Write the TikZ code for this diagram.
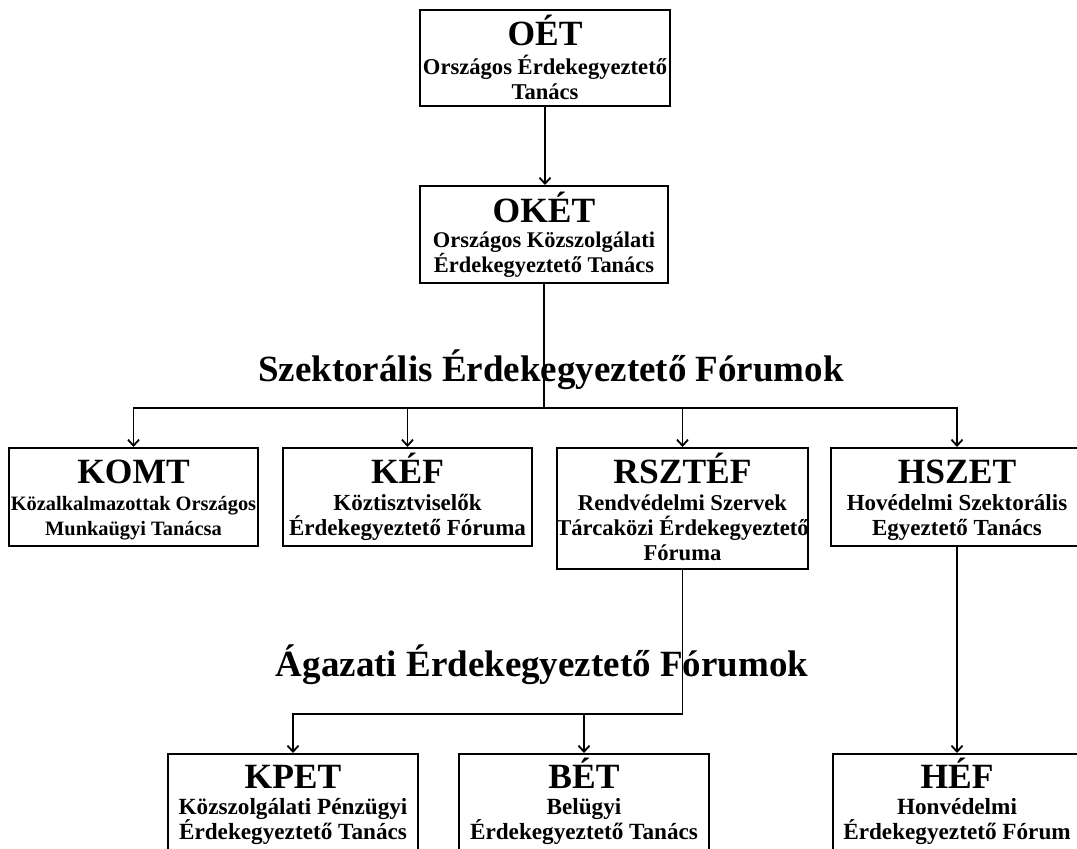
\documentclass[tikz,border=0pt]{standalone}
\usepackage{fontspec}
\setmainfont{Liberation Serif}
\usetikzlibrary{fit,arrows.meta}
\tikzset{
  obox/.style={draw, line width=2pt, inner sep=0pt},
  ttl/.style={font=\fontsize{35.5}{40}\selectfont\bfseries, inner sep=0pt},
  sub/.style={inner sep=0pt},
  seclabel/.style={font=\fontsize{37}{42}\selectfont\bfseries, inner sep=0pt},
  conn/.style={line width=1.8pt},
  arr/.style={conn, -{Straight Barb[length=6pt,width=11pt]}},
}
% #1 name, #2 corner, #3 corner, #4 title baseline offset, #5 first line offset,
% #6 title, #7 lines, #8 font size of the lines
\newcommand\orgbox[8]{%
  \node[obox, fit={#2 #3}] (#1) {};
  \node[ttl, anchor=base] (#1-t) at ([yshift=-#4pt]#1.north) {#6};
  \foreach \txt [count=\i] in {#7} {%
    \pgfmathsetmacro\dy{#5+25*(\i-1)}%
    \node[sub, font=\fontsize{#8}{25}\selectfont\bfseries, anchor=base] (#1-\i) at ([yshift=-\dy pt]#1.north) {\txt};
  }%
}
\begin{document}
\begin{tikzpicture}[x=1pt,y=-1pt]
\useasboundingbox (0,0) rectangle (1077,849);
\clip (0,0) rectangle (1077,849);

\orgbox{oet}{(420,10)}{(670,106)}{36}{65}{OÉT}{Országos Érdekegyeztető,Tanács}{22.6}
\orgbox{oket}{(420,186)}{(668,283)}{37}{62}{OKÉT}{Országos Közszolgálati,Érdekegyeztető Tanács}{22.4}
\orgbox{komt}{(9,448)}{(258,546)}{36}{63}{KOMT}{Közalkalmazottak Országos,Munkaügyi Tanácsa}{20.4}
\orgbox{kef}{(283,448)}{(532,546)}{36}{63}{KÉF}{Köztisztviselők,Érdekegyeztető Fóruma}{23}
\orgbox{rsztef}{(557,448)}{(808,569)}{36}{63}{RSZTÉF}{Rendvédelmi Szervek,Tárcaközi Érdekegyeztető,Fóruma}{22.6}
\orgbox{hszet}{(831,448)}{(1083,546)}{36}{63}{HSZET}{Hovédelmi Szektorális,Egyeztető Tanács}{23}
\orgbox{kpet}{(168,754)}{(418,870)}{35}{61}{KPET}{Közszolgálati Pénzügyi,Érdekegyeztető Tanács}{23.2}
\orgbox{bet}{(459,754)}{(709,870)}{35}{61}{BÉT}{Belügyi,Érdekegyeztető Tanács}{23.2}
\orgbox{hef}{(833,754)}{(1081,870)}{35}{61}{HÉF}{Honvédelmi,Érdekegyeztető Fórum}{23.2}

\node[seclabel, anchor=base] (sec1) at (551,381) {Szektorális Érdekegyeztető Fórumok};
\node[seclabel, anchor=base] (sec2) at (542,676) {Ágazati Érdekegyeztető Fórumok};

\draw[arr] (oet.south) -- (oet.south |- oket.north);
\path (oket.south) ++(0,124) coordinate (hub1);
\draw[conn] (oket.south) -- (hub1);
\draw[arr] (hub1) -| (komt.north);
\draw[arr] (hub1) -| (kef.north);
\draw[arr] (hub1) -| (rsztef.north);
\draw[arr] (hub1) -| (hszet.north);

\path (rsztef.south) ++(0,144) coordinate (hub2);
\draw[conn] (rsztef.south) -- (hub2);
\draw[arr] (hub2) -| (kpet.north);
\draw[arr] (hub2) -| (bet.north);

\draw[arr] (hszet.south) -- (hef.north);
\end{tikzpicture}
\end{document}
